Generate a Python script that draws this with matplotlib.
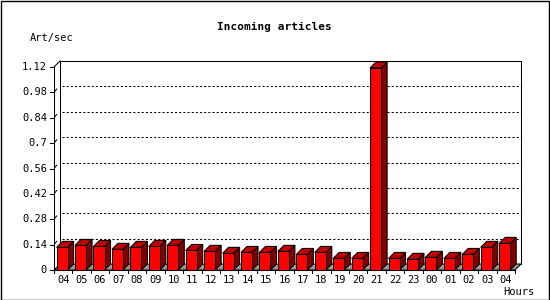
import matplotlib
matplotlib.use("Agg")
import matplotlib.pyplot as plt
from matplotlib.patches import Polygon, Rectangle

hours = ["04", "05", "06", "07", "08", "09", "10", "11", "12", "13", "14", "15",
         "16", "17", "18", "19", "20", "21", "22", "23", "00", "01", "02", "03", "04"]
values = [0.125, 0.136, 0.130, 0.114, 0.125, 0.130, 0.136, 0.108, 0.103, 0.092,
          0.097, 0.097, 0.103, 0.086, 0.097, 0.064, 0.064, 1.115, 0.064, 0.059,
          0.070, 0.064, 0.086, 0.125, 0.147]
yticks = [0, 0.14, 0.28, 0.42, 0.56, 0.7, 0.84, 0.98, 1.12]
ytick_labels = ["0", "0.14", "0.28", "0.42", "0.56", "0.7", "0.84", "0.98", "1.12"]
ymax = 1.12

W, H = 550, 300
fig = plt.figure(figsize=(W / 100, H / 100), dpi=100)
fig.patch.set_facecolor("white")

# pixel geometry of front plot area
x0_px, x1_px = 54, 515
y0_px, y1_px = 270, 67
depth_px = 6
n = len(values)
px_per_x = (x1_px - x0_px) / n
px_per_y = (y0_px - y1_px) / ymax
dx = depth_px / px_per_x
dy = depth_px / px_per_y

ax = fig.add_axes([x0_px / W, (H - y0_px) / H,
                   (x1_px + depth_px - x0_px) / W, (y0_px - y1_px + depth_px) / H])
ax.set_xlim(0, n + dx)
ax.set_ylim(0, ymax + dy)
ax.axis("off")

lw = 0.75
fontfam = "DejaVu Sans Mono"

# back plane
ax.add_patch(Rectangle((dx, dy), n, ymax, facecolor="white", edgecolor="black",
                       lw=lw, zorder=1, clip_on=False))
# grid lines on back plane
for v in yticks[1:-1]:
    ax.plot([dx + 0.1, n + dx], [v + dy, v + dy], color="black", lw=lw,
            linestyle=(0, (2, 2)), zorder=2, clip_on=False)
# left wall tick diagonals
for v in yticks[1:-1]:
    ax.plot([0.05, dx * 0.45], [v + dy * 0.2, v + dy * 0.55], color="black",
            lw=lw, zorder=2, clip_on=False)
# left wall edges
ax.plot([0, dx], [ymax, ymax + dy], color="black", lw=lw, zorder=2, clip_on=False)
ax.plot([0, 0], [0, ymax], color="black", lw=lw, zorder=6, clip_on=False)
# floor
ax.add_patch(Polygon([(0, 0), (n, 0), (n + dx, dy), (dx, dy)], closed=True,
                     facecolor="#999999", edgecolor="black", lw=lw, zorder=2,
                     clip_on=False))

# bars
off, bw = 0.14, 0.6
for i, v in enumerate(values):
    xl = i + off
    xr = xl + bw
    ax.add_patch(Polygon([(xr, 0), (xr + dx, dy), (xr + dx, v + dy), (xr, v)],
                         closed=True, facecolor="#800000", edgecolor="black",
                         lw=lw, zorder=3 + i * 0.001, clip_on=False))
    ax.add_patch(Polygon([(xl, v), (xr, v), (xr + dx, v + dy), (xl + dx, v + dy)],
                         closed=True, facecolor="#c00000", edgecolor="black",
                         lw=lw, zorder=3 + i * 0.001, clip_on=False))
    ax.add_patch(Rectangle((xl, 0), bw, v, facecolor="#ff0000", edgecolor="black",
                           lw=lw, zorder=3.5 + i * 0.001, clip_on=False))

# x axis line
ax.plot([0, n], [0, 0], color="black", lw=lw, zorder=6, clip_on=False)
tick_len_y = 3 / px_per_y
for i in range(n + 1):
    ax.plot([i, i], [0, -tick_len_y], color="black", lw=lw, zorder=6, clip_on=False)
for i, lab in enumerate(hours):
    ax.text(i + 0.5, -10 / px_per_y, lab, ha="center", va="center",
            fontsize=7.5, family=fontfam, clip_on=False)
# y ticks
for v, lab in zip(yticks, ytick_labels):
    ax.plot([-4 / px_per_x, 0], [v, v], color="black", lw=lw, zorder=6, clip_on=False)
    ax.text(-7 / px_per_x, v, lab, ha="right", va="center", fontsize=7.5,
            family=fontfam, clip_on=False)

fig.text(274 / W, 1 - 27 / H, "Incoming articles", ha="center", va="center",
         fontsize=8, fontweight="bold", family=fontfam)
fig.text(30 / W, 1 - 37.5 / H, "Art/sec", ha="left", va="center",
         fontsize=7.5, family=fontfam)
fig.text(534 / W, 1 - 292 / H, "Hours", ha="right", va="center",
         fontsize=7.5, family=fontfam)

fig.patches.append(Rectangle((0.5 / W, 0.5 / H), 1 - 1.5 / W, 1 - 1.5 / H,
                             transform=fig.transFigure, fill=False,
                             edgecolor="black", lw=1))

fig.savefig("out.png", dpi=100)
